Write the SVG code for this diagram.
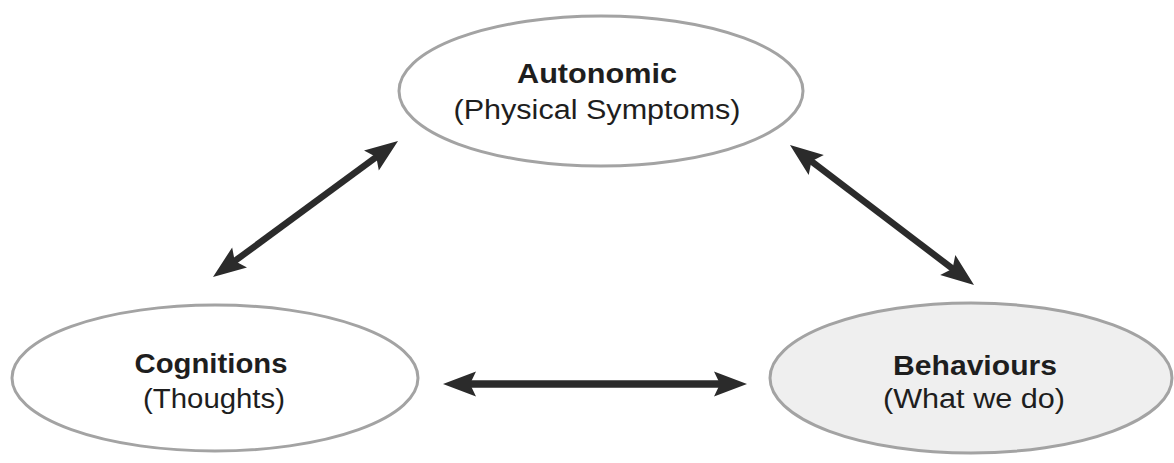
<svg xmlns="http://www.w3.org/2000/svg" width="1174" height="463" viewBox="0 0 1174 463">
<style>
.node ellipse{stroke:#a3a3a3;stroke-width:3}
.t{font-family:"Liberation Sans",Arial,sans-serif;font-size:27px;fill:#1e1e1e;text-anchor:middle}
.b{font-weight:bold}
.conn line{stroke:#2b2b2b;stroke-linecap:butt}
</style>
<defs>
<marker id="ah" viewBox="-36 -15 38 30" markerWidth="38" markerHeight="30" refX="-20" refY="0" orient="auto-start-reverse" markerUnits="userSpaceOnUse">
<path d="M0,0 L-33,-12.5 L-27,0 L-33,12.5 Z" fill="#2b2b2b"/>
</marker>
</defs>
<rect width="1174" height="463" fill="#ffffff"/>
<g id="autonomic" class="node">
<ellipse cx="601" cy="91" rx="202" ry="75" fill="#ffffff"/>
<text class="t b" x="597" y="83" textLength="160" lengthAdjust="spacingAndGlyphs">Autonomic</text>
<text class="t" x="597" y="119" textLength="287" lengthAdjust="spacingAndGlyphs">(Physical Symptoms)</text>
</g>
<g id="cognitions" class="node">
<ellipse cx="215" cy="378" rx="203" ry="73" fill="#ffffff"/>
<text class="t b" x="211" y="373" textLength="153" lengthAdjust="spacingAndGlyphs">Cognitions</text>
<text class="t" x="214" y="408" textLength="142" lengthAdjust="spacingAndGlyphs">(Thoughts)</text>
</g>
<g id="behaviours" class="node">
<ellipse cx="971" cy="378" rx="201" ry="75" fill="#efefef"/>
<text class="t b" x="975" y="375" textLength="164" lengthAdjust="spacingAndGlyphs">Behaviours</text>
<text class="t" x="974" y="408" textLength="182" lengthAdjust="spacingAndGlyphs">(What we do)</text>
</g>
<g id="connectors" class="conn">
<line x1="229.1" y1="265.2" x2="381.9" y2="152.8" stroke-width="6.5" marker-start="url(#ah)" marker-end="url(#ah)"/>
<line x1="805.9" y1="157.1" x2="958.1" y2="272.9" stroke-width="6.5" marker-start="url(#ah)" marker-end="url(#ah)"/>
<line x1="463" y1="384" x2="727" y2="384" stroke-width="7.5" marker-start="url(#ah)" marker-end="url(#ah)"/>
</g>
</svg>
